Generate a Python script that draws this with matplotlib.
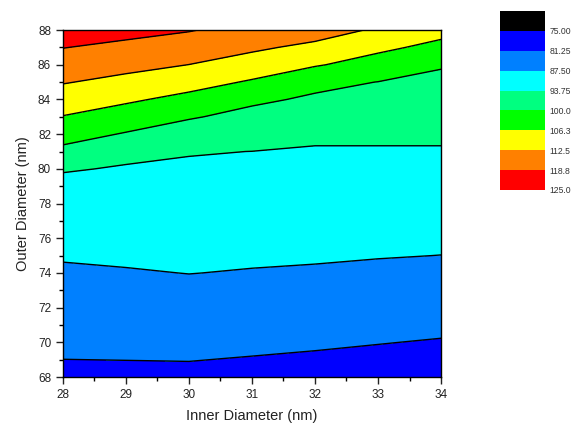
import matplotlib
matplotlib.use("Agg")
import matplotlib.pyplot as plt
import numpy as np

plt.rcParams["font.family"] = ["Liberation Sans", "DejaVu Sans"]

# grid: inner diameter columns, outer diameter rows
inner = [28, 29, 30, 31, 32, 33, 34]
outer = list(range(68, 89))
# Z[row][col], row = outer diameter 68..88, col = inner diameter 28..34
Z = [
    [80.10, 80.11, 80.13, 79.74, 79.35, 78.85, 78.33],
    [81.22, 81.29, 81.37, 80.99, 80.60, 80.13, 79.63],
    [82.33, 82.46, 82.62, 82.24, 81.85, 81.40, 80.94],
    [83.44, 83.64, 83.86, 83.48, 83.10, 82.69, 82.24],
    [84.55, 84.81, 85.11, 84.73, 84.36, 83.96, 83.55],
    [85.66, 85.99, 86.35, 85.98, 85.61, 85.24, 84.85],
    [86.78, 87.16, 87.57, 87.23, 86.86, 86.52, 86.16],
    [87.93, 88.24, 88.49, 88.22, 88.11, 87.72, 87.46],
    [89.14, 89.29, 89.41, 89.14, 88.95, 88.67, 88.46],
    [90.36, 90.34, 90.33, 90.05, 89.80, 89.62, 89.45],
    [91.58, 91.39, 91.25, 90.97, 90.70, 90.58, 90.45],
    [92.80, 92.44, 92.17, 91.89, 91.62, 91.53, 91.44],
    [94.02, 93.49, 93.09, 92.80, 92.53, 92.48, 92.43],
    [98.55, 94.53, 94.01, 93.72, 93.45, 93.44, 93.42],
    [102.35, 99.57, 97.44, 96.09, 94.36, 94.38, 94.42],
    [106.08, 103.40, 100.46, 98.50, 97.19, 96.56, 96.12],
    [109.50, 107.24, 104.60, 100.92, 99.26, 98.24, 97.53],
    [112.86, 110.87, 108.59, 105.68, 101.32, 99.92, 98.95],
    [115.90, 114.25, 112.46, 109.74, 106.85, 103.67, 100.37],
    [118.95, 117.43, 115.80, 113.55, 111.04, 107.61, 104.61],
    [122.00, 120.61, 119.13, 116.83, 115.30, 111.69, 108.28],
]
levels = [75, 81.25, 87.5, 93.75, 100, 106.3, 112.5, 118.8, 125]
level_labels = ["75.00", "81.25", "87.50", "93.75", "100.0", "106.3", "112.5", "118.8", "125.0"]
colors = ["#0000FF", "#0080FF", "#00FFFF", "#00FF80", "#00FF00", "#FFFF00", "#FF8000", "#FF0000"]
legend_colors = ["#000000"] + colors

fig = plt.figure(figsize=(5.72, 4.29), dpi=100)
ax = fig.add_axes([0.110, 0.121, 0.661, 0.809])
X, Y = np.meshgrid(inner, outer)
Zarr = np.array(Z)
ax.contourf(X, Y, Zarr, levels=levels, colors=colors)
ax.contour(X, Y, Zarr, levels=levels[1:-1], colors="black", linewidths=1.0)

ax.set_xlim(28, 34); ax.set_ylim(68, 88)
ax.set_xticks(range(28, 35)); ax.set_yticks(range(68, 89, 2))
ax.set_xticks(np.arange(28.5, 34, 1), minor=True)
ax.set_yticks(range(69, 88, 2), minor=True)
ax.tick_params(which="major", direction="out", length=5, width=1, labelsize=8.5, colors="#222222")
ax.tick_params(which="minor", direction="out", length=3, width=1)
for s in ax.spines.values():
    s.set_linewidth(1)
ax.set_xlabel("Inner Diameter (nm)", fontsize=10.5, color="#222222", labelpad=6)
ax.set_ylabel("Outer Diameter (nm)", fontsize=10.5, color="#222222", labelpad=6)

# stacked colour legend on the right, boundaries labelled under each box
cax = fig.add_axes([500 / 572, 1 - 190 / 429, 45 / 572, 179 / 429])
for i, c in enumerate(legend_colors):
    cax.bar(0, 1, bottom=i, width=1, color=c, edgecolor="none")
cax.set_xlim(-0.5, 0.5); cax.set_ylim(len(legend_colors), 0)
cax.set_xticks([])
cax.yaxis.tick_right()
cax.set_yticks(np.arange(1, len(legend_colors) + 1))
cax.set_yticklabels(level_labels, fontsize=6.2, color="#333333")
cax.tick_params(axis="y", length=0, pad=3)
for s in cax.spines.values():
    s.set_visible(False)

fig.savefig("out.png", dpi=100)
